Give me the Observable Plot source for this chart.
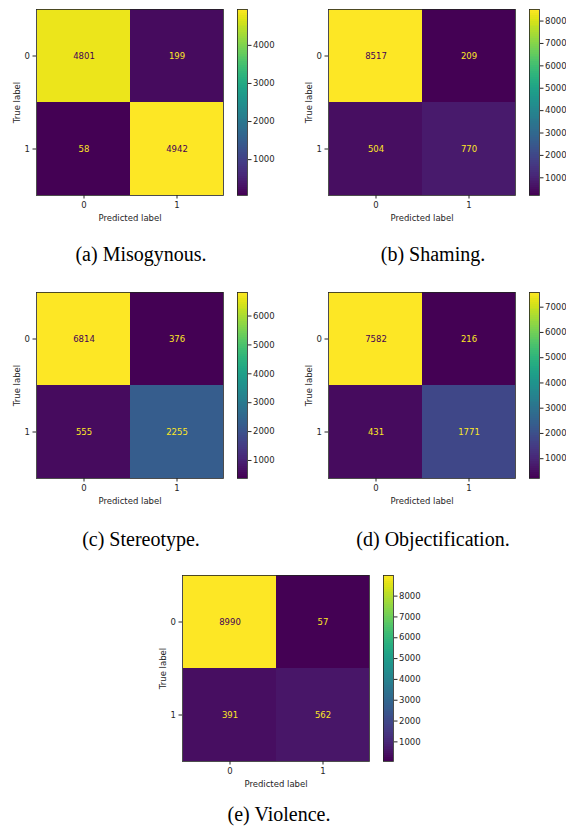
<!DOCTYPE html>
<html>
<head>
<meta charset="utf-8">
<script src="https://cdn.jsdelivr.net/npm/d3@7"></script>
<script src="https://cdn.jsdelivr.net/npm/@observablehq/plot@0.6"></script>
<style>
  html, body { margin: 0; padding: 0; background: #fff; }
  #page { position: relative; width: 566px; height: 834px; overflow: hidden; background: #fff; }
  .abs { position: absolute; }
  .abs svg { max-width: none !important; }
  .cap { position: absolute; font-family: "Liberation Serif", "Times New Roman", serif; font-size: 20px; line-height: 20px; white-space: nowrap; transform: translateX(-50%); color: #000; }
</style>
</head>
<body>
<div id="page"></div>
<script>
// ---- data ----
const trueLabels = ["0", "1"];
const predLabels = ["0", "1"];
const panelIds = ["a", "b", "c", "d", "e"];
const captions = ["(a) Misogynous.", "(b) Shaming.", "(c) Stereotype.", "(d) Objectification.", "(e) Violence."];
// row-major: [TN, FP, FN, TP]
const misogynous = [4801, 199, 58, 4942];
const shaming = [8517, 209, 504, 770];
const stereotype = [6814, 376, 555, 2255];
const objectification = [7582, 216, 431, 1771];
const violence = [8990, 57, 391, 562];
const misogynousTicks = [1000, 2000, 3000, 4000];
const shamingTicks = [1000, 2000, 3000, 4000, 5000, 6000, 7000, 8000];
const stereotypeTicks = [1000, 2000, 3000, 4000, 5000, 6000];
const objectificationTicks = [1000, 2000, 3000, 4000, 5000, 6000, 7000];
const violenceTicks = [1000, 2000, 3000, 4000, 5000, 6000, 7000, 8000];

const matrices = [misogynous, shaming, stereotype, objectification, violence];
const tickSets = [misogynousTicks, shamingTicks, stereotypeTicks, objectificationTicks, violenceTicks];

// ---- layout ----
const layout = [
  {left: 36, top: 9, capX: 141, capBase: 261},
  {left: 328, top: 9, capX: 433, capBase: 261},
  {left: 36, top: 292, capX: 141, capBase: 546},
  {left: 328, top: 292, capX: 433, capBase: 546},
  {left: 182, top: 575, capX: 279, capBase: 821}
];
const FW = 187, FH = 186;
const ML = 36, MT = 9, MB = 30, MR = 5;
const font = "DejaVu Sans";
const fs = 8.5;
const ink = "#262626";
const page = document.getElementById("page");

function place(node, x, y, w, h) {
  const d = document.createElement("div");
  d.className = "abs";
  d.style.left = x + "px";
  d.style.top = y + "px";
  d.style.width = w + "px";
  d.style.height = h + "px";
  d.appendChild(node);
  page.appendChild(d);
}

matrices.forEach((vals, k) => {
  const L = layout[k];
  const cells = trueLabels.flatMap((t, i) => predLabels.map((p, j) => ({t, p, v: vals[i * predLabels.length + j]})));
  const lo = d3.min(vals), hi = d3.max(vals);
  const mid = (lo + hi) / 2;
  const colorOpt = {type: "linear", scheme: "viridis", domain: [lo, hi]};

  const mat = Plot.plot({
    width: ML + FW + MR,
    height: MT + FH + MB,
    marginLeft: ML, marginRight: MR, marginTop: MT, marginBottom: MB,
    style: {fontFamily: font, fontSize: fs + "px", color: ink, background: "transparent", overflow: "visible"},
    x: {type: "band", domain: predLabels, padding: 0},
    y: {type: "band", domain: trueLabels, padding: 0},
    color: colorOpt,
    marks: [
      Plot.cell(cells, {x: "p", y: "t", fill: "v", inset: 0}),
      Plot.text(cells, {x: "p", y: "t", text: d => String(d.v), filter: d => d.v < mid, fill: "#fde725", fontSize: fs}),
      Plot.text(cells, {x: "p", y: "t", text: d => String(d.v), filter: d => d.v >= mid, fill: "#440154", fontSize: fs}),
      Plot.axisX({label: "Predicted label", labelAnchor: "center", labelOffset: 25, tickSize: 3.5, tickPadding: 3, fontSize: fs, stroke: ink, fill: ink}),
      Plot.axisY({label: "True label", labelAnchor: "center", labelOffset: 23, tickSize: 3.5, tickPadding: 3, fontSize: fs, stroke: ink, fill: ink}),
      Plot.frame({stroke: "#222", strokeWidth: 0.8})
    ]
  });
  place(mat, L.left - ML, L.top - MT, ML + FW + MR, MT + FH + MB);

  // colorbar gradient (bottom to top, each step overlapping the next)
  const N = 96;
  const stepSize = (hi - lo) / N;
  const steps = d3.range(0, N).map(i => ({a: lo + stepSize * i, b: Math.min(hi, lo + stepSize * (i + 2))}));
  const CBW = 10, CBR = 45;
  const cb = Plot.plot({
    width: CBW + CBR,
    height: MT + FH + MB,
    marginLeft: 0, marginRight: CBR, marginTop: MT, marginBottom: MB,
    style: {fontFamily: font, fontSize: fs + "px", color: ink, background: "transparent", overflow: "visible"},
    x: {domain: [0, 1], axis: null},
    y: {domain: [lo, hi], ticks: tickSets[k]},
    color: colorOpt,
    marks: [
      Plot.rect(steps, {x1: 0, x2: 1, y1: "a", y2: "b", fill: d => d.a + stepSize / 2, shapeRendering: "crispEdges"}),
      Plot.axisY(tickSets[k], {anchor: "right", label: null, tickSize: 3.5, tickPadding: 2, fontSize: fs, stroke: ink, fill: ink, tickFormat: d => String(d)}),
      Plot.frame({stroke: "#222", strokeWidth: 0.8})
    ]
  });
  place(cb, L.left + 201, L.top - MT, CBW + CBR, MT + FH + MB);

  const cap = document.createElement("div");
  cap.className = "cap";
  cap.textContent = captions[k];
  cap.style.left = L.capX + "px";
  cap.style.top = (L.capBase - 16.75) + "px";
  page.appendChild(cap);
});
</script>
</body>
</html>
